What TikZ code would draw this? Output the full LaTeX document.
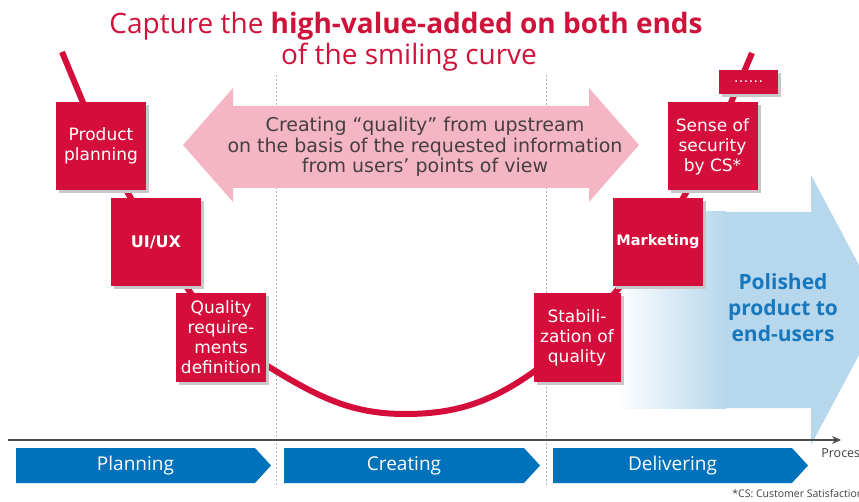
\documentclass[tikz,border=0pt]{standalone}
\usepackage{fontspec}
\setmainfont{DejaVu Sans}
\newfontfamily\headfont{Open Sans}
\usepackage{xcolor}
\usetikzlibrary{shapes,shapes.symbols,arrows.meta,positioning,calc,shadows,backgrounds}

\definecolor{smileRed}{RGB}{213,13,58}
\definecolor{titleRed}{RGB}{206,18,58}
\definecolor{upPink}{RGB}{244,182,196}
\definecolor{phaseBlue}{RGB}{0,114,188}
\definecolor{polishBlue}{RGB}{182,215,236}
\definecolor{polishText}{RGB}{24,120,190}
\definecolor{noteGray}{RGB}{70,62,64}

\begin{document}
\begin{tikzpicture}[x=1pt, y=-1pt, outer sep=0pt,
    stepbox/.style={fill=smileRed, text=white, minimum width=90pt, minimum height=88pt, align=center, inner sep=1pt,
        font=\fontsize{17}{20}\selectfont,
        drop shadow={shadow xshift=3pt, shadow yshift=-3pt, fill=black!22, opacity=1}},
    phase/.style={signal, signal to=east, signal from=nowhere, signal pointer angle=95, fill=phaseBlue, text=white,
        minimum width=255pt, minimum height=35pt, inner sep=0pt, font=\headfont\fontsize{19}{22}\selectfont},
    curve/.style={draw=smileRed, line width=6pt, line join=round},
    sepline/.style={draw=black!30, dashed, dash pattern=on 2pt off 2pt, line width=0.8pt}
    ]
    \clip (0,0) rectangle (859,502);

    % title
    \node [text=titleRed, anchor=base, font=\headfont\fontsize{28}{32}\selectfont] (Title) at (406,34) {Capture the \textbf{high-value-added on both ends}};
    \node [text=titleRed, anchor=base, font=\headfont\fontsize{28}{32}\selectfont] (Subtitle) at (409,65) {of the smiling curve};

    % steps along the curve
    \node [stepbox] (Plan) at (101,146) {Product\\planning};
    \node [stepbox, font=\fontsize{16}{20}\selectfont\bfseries] (UIUX) at (156,242) {UI/UX};
    \node [stepbox] (QualReq) at (221,337.5) {Quality\\require-\\ments\\definition};
    \node [stepbox, minimum width=87pt] (Stab) at (577,337.5) {Stabili-\\zation of\\quality};
    \node [stepbox, font=\fontsize{14.5}{20}\selectfont\bfseries] (Market) at (658,242) {Marketing};
    \node [stepbox] (Security) at (712.5,146.5) {Sense of\\security\\by CS*};
    \node [stepbox, minimum width=59pt, minimum height=24pt, font=\fontsize{9}{10}\selectfont\bfseries] (Dots) at (748.5,82) {.\,.\,.\,.\,.\,.};

    \node [text=noteGray, align=center, font=\fontsize{19}{20.5}\selectfont] (Upstream) at (425,147)
        {Creating “quality” from upstream\\on the basis of the requested information\\from users’ points of view};
    \node [text=polishText, align=center, font=\headfont\fontsize{21}{26}\selectfont\bfseries] (Polished) at (783,308)
        {Polished\\product to\\end-users};

    % phases
    \node [phase] (Planning) at (135.5,465.5) {Planning};
    \node [phase, minimum width=256pt] (Creating) at (404,465.5) {Creating};
    \node [phase] (Delivering) at (672.5,465.5) {Delivering};

    % process axis
    \coordinate (AxisL) at (8,440);
    \coordinate (AxisR) at (841,440);
    \draw [black!70, line width=1.6pt, -{Stealth[length=9pt, width=8pt]}] (AxisL) -- (AxisR);
    \node [anchor=base west, text=black!75, font=\headfont\fontsize{12.5}{14}\selectfont] (Process) at (818,457) {Process};
    \node [anchor=base west, text=black!75, font=\headfont\fontsize{10.5}{12}\selectfont] (Note) at (729,497) {*CS: Customer Satisfaction};

    \begin{scope}[on background layer]
        \draw [sepline] (276,75) -- (276,485);
        \draw [sepline] (546,75) -- (546,485);
        % upstream double arrow
        \fill [upPink] (183,145) -- (233,88) -- (233,106) -- (589,106) -- (589,88) -- (639,145)
            -- (589,202) -- (589,188) -- (233,188) -- (233,202) -- cycle;
        % delivery arrow fading in from the left
        \shade [left color=white, right color=polishBlue] (615,212) rectangle (726,408);
        \fill [polishBlue] (725,212) -- (811,212) -- (811,175) -- (883,310) -- (811,445) -- (811,408) -- (725,408) -- cycle;
        % smiling curve
        \coordinate (TopL) at (62,52);
        \coordinate (Dip) at (405,414);
        \coordinate (TopR) at (752,53);
        \draw [curve] (TopL) -- (Plan.center) -- (UIUX.center) -- (QualReq.center)
            .. controls (300,385) and (335,414) .. (Dip)
            .. controls (470,414) and (510,395) .. (Stab.center)
            -- (Market.center) -- (Security.center) -- (TopR);
    \end{scope}
\end{tikzpicture}
\end{document}
